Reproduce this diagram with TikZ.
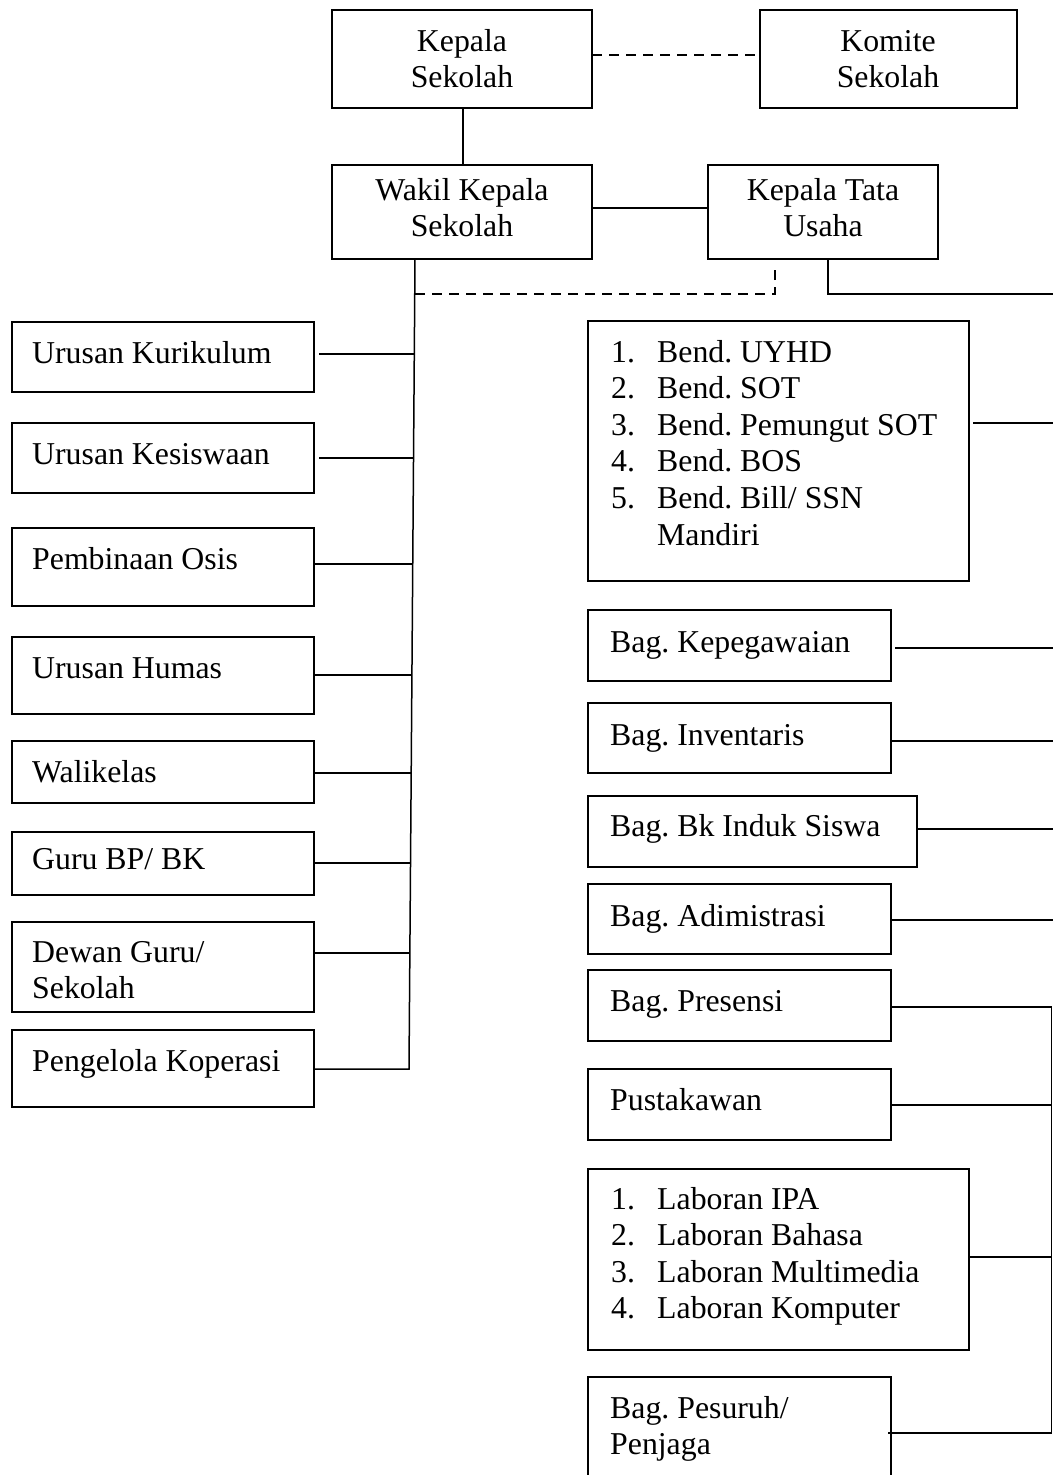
\documentclass[tikz,border=0pt]{standalone}
\usepackage{fontspec}
\setmainfont{Liberation Serif}
\usetikzlibrary{fit}
\frenchspacing
\begin{document}
\frenchspacing
\begin{tikzpicture}[x=1pt,y=-1pt,
  box/.style={draw, line width=1.6pt, inner sep=0pt, outer sep=0pt},
  ln/.style={line width=1.5pt},
  dsh/.style={line width=1.5pt, dash pattern=on 10pt off 7pt},
  txt/.style={anchor=base west, inner sep=0pt, font=\fontsize{31.8}{36.6}\selectfont\frenchspacing},
  ctxt/.style={anchor=base, inner sep=0pt, font=\fontsize{31.8}{36.6}\selectfont\frenchspacing}]
\useasboundingbox (0,0) rectangle (1053,1475);
\clip (0,0) rectangle (1053,1475);

% ---- top boxes
\node[box, fit={(332,10) (592,108)}] (kep) {};
\node[box, fit={(760,10) (1017,108)}] (kom) {};
\node[box, fit={(332,165) (592,259)}] (wak) {};
\node[box, fit={(708,165) (938,259)}] (ktu) {};
\node[ctxt] (kept1) at (462,51) {Kepala};
\node[ctxt] (kept2) at (462,87.6) {Sekolah};
\node[ctxt] (komt1) at (888,51) {Komite};
\node[ctxt] (komt2) at (888,87.6) {Sekolah};
\node[ctxt] (wakt1) at (462,200) {Wakil Kepala};
\node[ctxt] (wakt2) at (462,236.6) {Sekolah};
\node[ctxt] (ktut1) at (823,200) {Kepala Tata};
\node[ctxt] (ktut2) at (823,236.6) {Usaha};

% ---- left boxes
\node[box, fit={(12,322) (314,392)}] (kur) {};
\node[box, fit={(12,423) (314,493)}] (kes) {};
\node[box, fit={(12,528) (314,606)}] (osis) {};
\node[box, fit={(12,637) (314,714)}] (hum) {};
\node[box, fit={(12,741) (314,803)}] (wali) {};
\node[box, fit={(12,832) (314,895)}] (bp) {};
\node[box, fit={(12,922) (314,1012)}] (dew) {};
\node[box, fit={(12,1030) (314,1107)}] (kop) {};
\node[txt] (kurt) at (32,363) {Urusan Kurikulum};
\node[txt] (kest) at (32,464) {Urusan Kesiswaan};
\node[txt] (osist) at (32,569) {Pembinaan Osis};
\node[txt] (humt) at (32,678) {Urusan Humas};
\node[txt] (walit) at (32,782) {Walikelas};
\node[txt] (bpt) at (32,869) {Guru BP/ BK};
\node[txt] (dewt1) at (32,962) {Dewan Guru/};
\node[txt] (dewt2) at (32,998.6) {Sekolah};
\node[txt] (kopt) at (32,1071) {Pengelola Koperasi};

% ---- right boxes
\node[box, fit={(588,321) (969,581)}] (bend) {};
\node[box, fit={(588,610) (891,681)}] (peg) {};
\node[box, fit={(588,703) (891,773)}] (inv) {};
\node[box, fit={(588,796) (917,867)}] (bk) {};
\node[box, fit={(588,884) (891,954)}] (adm) {};
\node[box, fit={(588,970) (891,1041)}] (pres) {};
\node[box, fit={(588,1069) (891,1140)}] (pus) {};
\node[box, fit={(588,1169) (969,1350)}] (lab) {};
\node[box, fit={(588,1377) (891,1495)}] (pes) {};

\node[txt] (bn1) at (611,362) {1.};
\node[txt] (bt1) at (657,362) {Bend. UYHD};
\node[txt] (bn2) at (611,398.6) {2.};
\node[txt] (bt2) at (657,398.6) {Bend. SOT};
\node[txt] (bn3) at (611,435.2) {3.};
\node[txt] (bt3) at (657,435.2) {Bend. Pemungut SOT};
\node[txt] (bn4) at (611,471.8) {4.};
\node[txt] (bt4) at (657,471.8) {Bend. BOS};
\node[txt] (bn5) at (611,508.4) {5.};
\node[txt] (bt5) at (657,508.4) {Bend. Bill/ SSN};
\node[txt] (bt6) at (657,545) {Mandiri};

\node[txt] (pegt) at (610,652) {Bag. Kepegawaian};
\node[txt] (invt) at (610,745) {Bag. Inventaris};
\node[txt] (bkt) at (610,836) {Bag. Bk Induk Siswa};
\node[txt] (admt) at (610,926) {Bag. Adimistrasi};
\node[txt] (prest) at (610,1011) {Bag. Presensi};
\node[txt] (pust) at (610,1110) {Pustakawan};

\node[txt] (ln1) at (611,1209) {1.};
\node[txt] (lt1) at (657,1209) {Laboran IPA};
\node[txt] (ln2) at (611,1245.6) {2.};
\node[txt] (lt2) at (657,1245.6) {Laboran Bahasa};
\node[txt] (ln3) at (611,1282.2) {3.};
\node[txt] (lt3) at (657,1282.2) {Laboran Multimedia};
\node[txt] (ln4) at (611,1318.8) {4.};
\node[txt] (lt4) at (657,1318.8) {Laboran Komputer};

\node[txt] (pest1) at (610,1418) {Bag. Pesuruh/};
\node[txt] (pest2) at (610,1454.6) {Penjaga};

% ---- coordinates
\coordinate (kd) at (463,55);
\coordinate (kv) at (463,0);
\coordinate (spT) at (415,0);
\coordinate (spB) at (409,1069);
\coordinate (d1) at (415,294);
\coordinate (d2) at (775,294);
\coordinate (k1) at (828,294);
\coordinate (E) at (1053,0);
\coordinate (ww) at (0,208);
\coordinate (s1) at (414.3,354);
\coordinate (s2) at (413.5,458);
\coordinate (s3) at (412.7,564);
\coordinate (s4) at (411.9,675);
\coordinate (s5) at (411.2,773);
\coordinate (s6) at (410.5,863);
\coordinate (s7) at (409.9,953);
\coordinate (r1) at (1053,423);
\coordinate (r2) at (1053,648);
\coordinate (r3) at (1053,741);
\coordinate (r4) at (1053,829);
\coordinate (r5) at (1053,920);
\coordinate (rv1) at (1051.5,1007);
\coordinate (r7) at (1051.5,1105);
\coordinate (r8) at (1051.5,1257);
\coordinate (rv2) at (1051.5,1433);

% ---- connectors top
\draw[dsh] (kep.east |- kd) -- (kom.west |- kd);
\draw[ln] (kep.south -| kv) -- (wak.north -| kv);
\draw[ln] (wak.east |- ww) -- (ktu.west |- ww);
\draw[dsh] (d1) -- (d2) -- (d2 |- ktu.south) [shorten >=5pt];
\draw[ln] (ktu.south -| k1) -- (k1) -- (k1 -| E);

% ---- spine left
\draw[ln] (wak.south -| spT) -- (spB) -- (kop.east |- spB);
\draw[ln, shorten <=5pt] (kur.east |- s1) -- (s1);
\draw[ln, shorten <=5pt] (kes.east |- s2) -- (s2);
\draw[ln] (osis.east |- s3) -- (s3);
\draw[ln] (hum.east |- s4) -- (s4);
\draw[ln] (wali.east |- s5) -- (s5);
\draw[ln] (bp.east |- s6) -- (s6);
\draw[ln] (dew.east |- s7) -- (s7);

% ---- right connectors
\draw[ln, shorten <=4pt] (bend.east |- r1) -- (r1);
\draw[ln, shorten <=4pt] (peg.east |- r2) -- (r2);
\draw[ln] (inv.east |- r3) -- (r3);
\draw[ln] (bk.east |- r4) -- (r4);
\draw[ln] (adm.east |- r5) -- (r5);
\draw[ln] (pres.east |- rv1) -- (rv1) -- (rv2) -- ([xshift=-3pt]pes.east |- rv2);
\draw[ln] (pus.east |- r7) -- (r7);
\draw[ln] (lab.east |- r8) -- (r8);
\end{tikzpicture}
\end{document}
